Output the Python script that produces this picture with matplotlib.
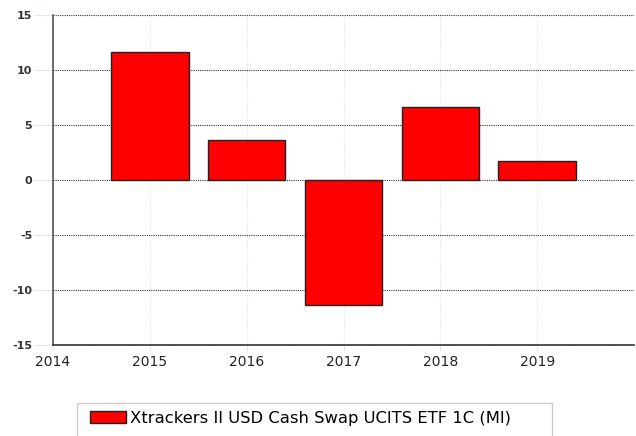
import matplotlib
matplotlib.use("Agg")
import matplotlib.pyplot as plt
from matplotlib.patches import Rectangle

plt.rcParams["axes.unicode_minus"] = False

years = [2015, 2016, 2017, 2018, 2019]
returns = [11.6, 3.6, -11.4, 6.65, 1.7]
x_ticks = [2014, 2015, 2016, 2017, 2018, 2019]
y_ticks = [-15, -10, -5, 0, 5, 10, 15]
label = "Xtrackers II USD Cash Swap UCITS ETF 1C (MI)"

W, H = 636, 436
fig = plt.figure(figsize=(W / 100, H / 100), dpi=100)
ax = fig.add_axes([53 / W, 1 - 345 / H, 1 - 53 / W - 2 / W, 330 / H])

bars = ax.bar(years, returns, width=0.8, color="#ff0000", edgecolor="#222222",
              linewidth=1.0, label=label, zorder=3)

ax.set_xlim(2014, 2020)
ax.set_ylim(-15, 15)
ax.set_xticks(x_ticks)
ax.set_yticks(y_ticks)

# grid: dotted black horizontal, faint blue vertical
ax.yaxis.grid(True, color="#333333", linestyle=(0, (1, 1)), linewidth=0.8, zorder=1)
ax.xaxis.grid(True, color="#dde8f5", linestyle=(0, (1, 1)), linewidth=0.8, zorder=1)

for s in ["top", "right"]:
    ax.spines[s].set_visible(False)
ax.spines["left"].set_color("#555555")
ax.spines["bottom"].set_color("#333333")
ax.spines["left"].set_linewidth(1.2)
ax.spines["bottom"].set_linewidth(1.2)

ax.tick_params(axis="y", length=14, color="#dde8f5", labelsize=8, labelcolor="#333333", pad=1)
ax.tick_params(axis="x", length=4, color="#dde8f5", labelsize=10, labelcolor="#222222", pad=3)
for t in ax.get_yticklabels():
    t.set_fontweight("bold")

# legend box (runs off the bottom edge like the original)
fig.patches.append(Rectangle((77 / W, -0.05), (552 - 77) / W, 0.05 + (H - 403) / H,
                             transform=fig.transFigure, facecolor="white",
                             edgecolor="#cccccc", linewidth=1.0))
leg = fig.legend(handles=[bars], labels=[label], loc="center left",
                 bbox_to_anchor=(90 / W, 1 - 418 / H), frameon=False,
                 fontsize=11.8, handlelength=2.2, handleheight=0.75, borderpad=0,
                 handletextpad=0.25, borderaxespad=0)

fig.savefig("out.png", dpi=100)
